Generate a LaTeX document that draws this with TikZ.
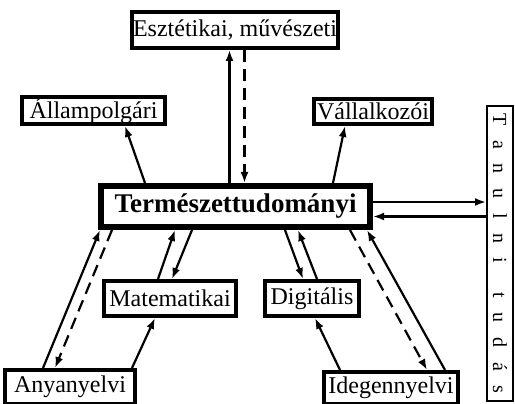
\documentclass[tikz,border=0pt]{standalone}
\usepackage{fontspec}
\setmainfont{Liberation Serif}
\usetikzlibrary{arrows.meta}
\newcommand{\tgap}{\hspace{14.6pt}}
\tikzset{
  box/.style={draw,line width=4pt,inner sep=0pt,font=\fontsize{24}{28}\selectfont},
  arr/.style={-{Latex[length=11pt,width=8pt]},line width=2.2pt},
  darr/.style={arr,dash pattern=on 12pt off 7pt}
}
\begin{document}
\begin{tikzpicture}[x=1pt,y=1pt]
    \useasboundingbox (0,0) rectangle (515,404);
    \node[box,minimum width=206pt,minimum height=36pt] (Esz) at (235,374) {Esztétikai, művészeti};
    \node[box,minimum width=143pt,minimum height=27pt] (All) at (93.5,293.5) {Állampolgári};
    \node[box,minimum width=118pt,minimum height=25pt] (Vall) at (373,292.5) {Vállalkozói};
    \node[box,line width=6pt,minimum width=269pt,minimum height=41pt,font=\fontsize{27}{31}\selectfont\bfseries] (T) at (235.5,197.5) {Természettudományi};
    \node[box,minimum width=132pt,minimum height=35pt] (Mat) at (170,105.5) {Matematikai};
    \node[box,minimum width=94pt,minimum height=35pt] (Dig) at (312,105.5) {Digitális};
    \node[box,minimum width=130pt,minimum height=34pt] (Any) at (70,17) {Anyanyelvi};
    \node[box,minimum width=134pt,minimum height=32pt] (Ide) at (391,16) {Idegennyelvi};
    \node[draw,line width=2pt,inner sep=0pt,rotate=-90,minimum width=295pt,minimum height=26pt,font=\fontsize{20}{24}\selectfont] (Tan) at (500,150.5)
      {T\tgap a\tgap n\tgap u\tgap l\tgap n\tgap i\tgap\tgap t\tgap u\tgap d\tgap á\tgap s};
    % fel es vissza
    \draw[arr] ([xshift=-6pt]T.north) -- ([xshift=-6pt]T.north |- Esz.south);
    \draw[darr] ([xshift=9pt]T.north |- Esz.south) -- ([xshift=9pt]T.north);
    \draw[arr] ([xshift=-90.5pt]T.north) -- ([xshift=31.5pt]All.south);
    \draw[arr] ([xshift=97.5pt]T.north) -- ([xshift=-28pt]Vall.south);
    \draw[arr] ([yshift=4.5pt]T.east) -- ([yshift=4.5pt]T.east -| Tan.south);
    \draw[arr] ([yshift=-10pt]T.east -| Tan.south) -- ([yshift=-10pt]T.east);
    % also resz
    \draw[arr] ([xshift=-27pt]Any.north) -- ([xshift=-135.5pt]T.south);
    \draw[darr] ([xshift=-123.5pt]T.south) -- ([xshift=-15pt]Any.north);
    \draw[arr] ([xshift=-12pt]Mat.north) -- ([xshift=-60.5pt]T.south);
    \draw[arr] ([xshift=-43.5pt]T.south) -- ([xshift=2pt]Mat.north);
    \draw[arr] ([xshift=62pt]Any.north) -- ([xshift=-15pt]Mat.south);
    \draw[arr] ([xshift=49.5pt]T.south) -- ([xshift=-9pt]Dig.north);
    \draw[arr] ([xshift=5pt]Dig.north) -- ([xshift=62.5pt]T.south);
    \draw[arr] ([xshift=-51pt]Ide.north) -- ([xshift=3pt]Dig.south);
    \draw[darr] ([xshift=114.5pt]T.south) -- ([xshift=36pt]Ide.north);
    \draw[arr] ([xshift=54pt]Ide.north) -- ([xshift=131.5pt]T.south);
\end{tikzpicture}
\end{document}
